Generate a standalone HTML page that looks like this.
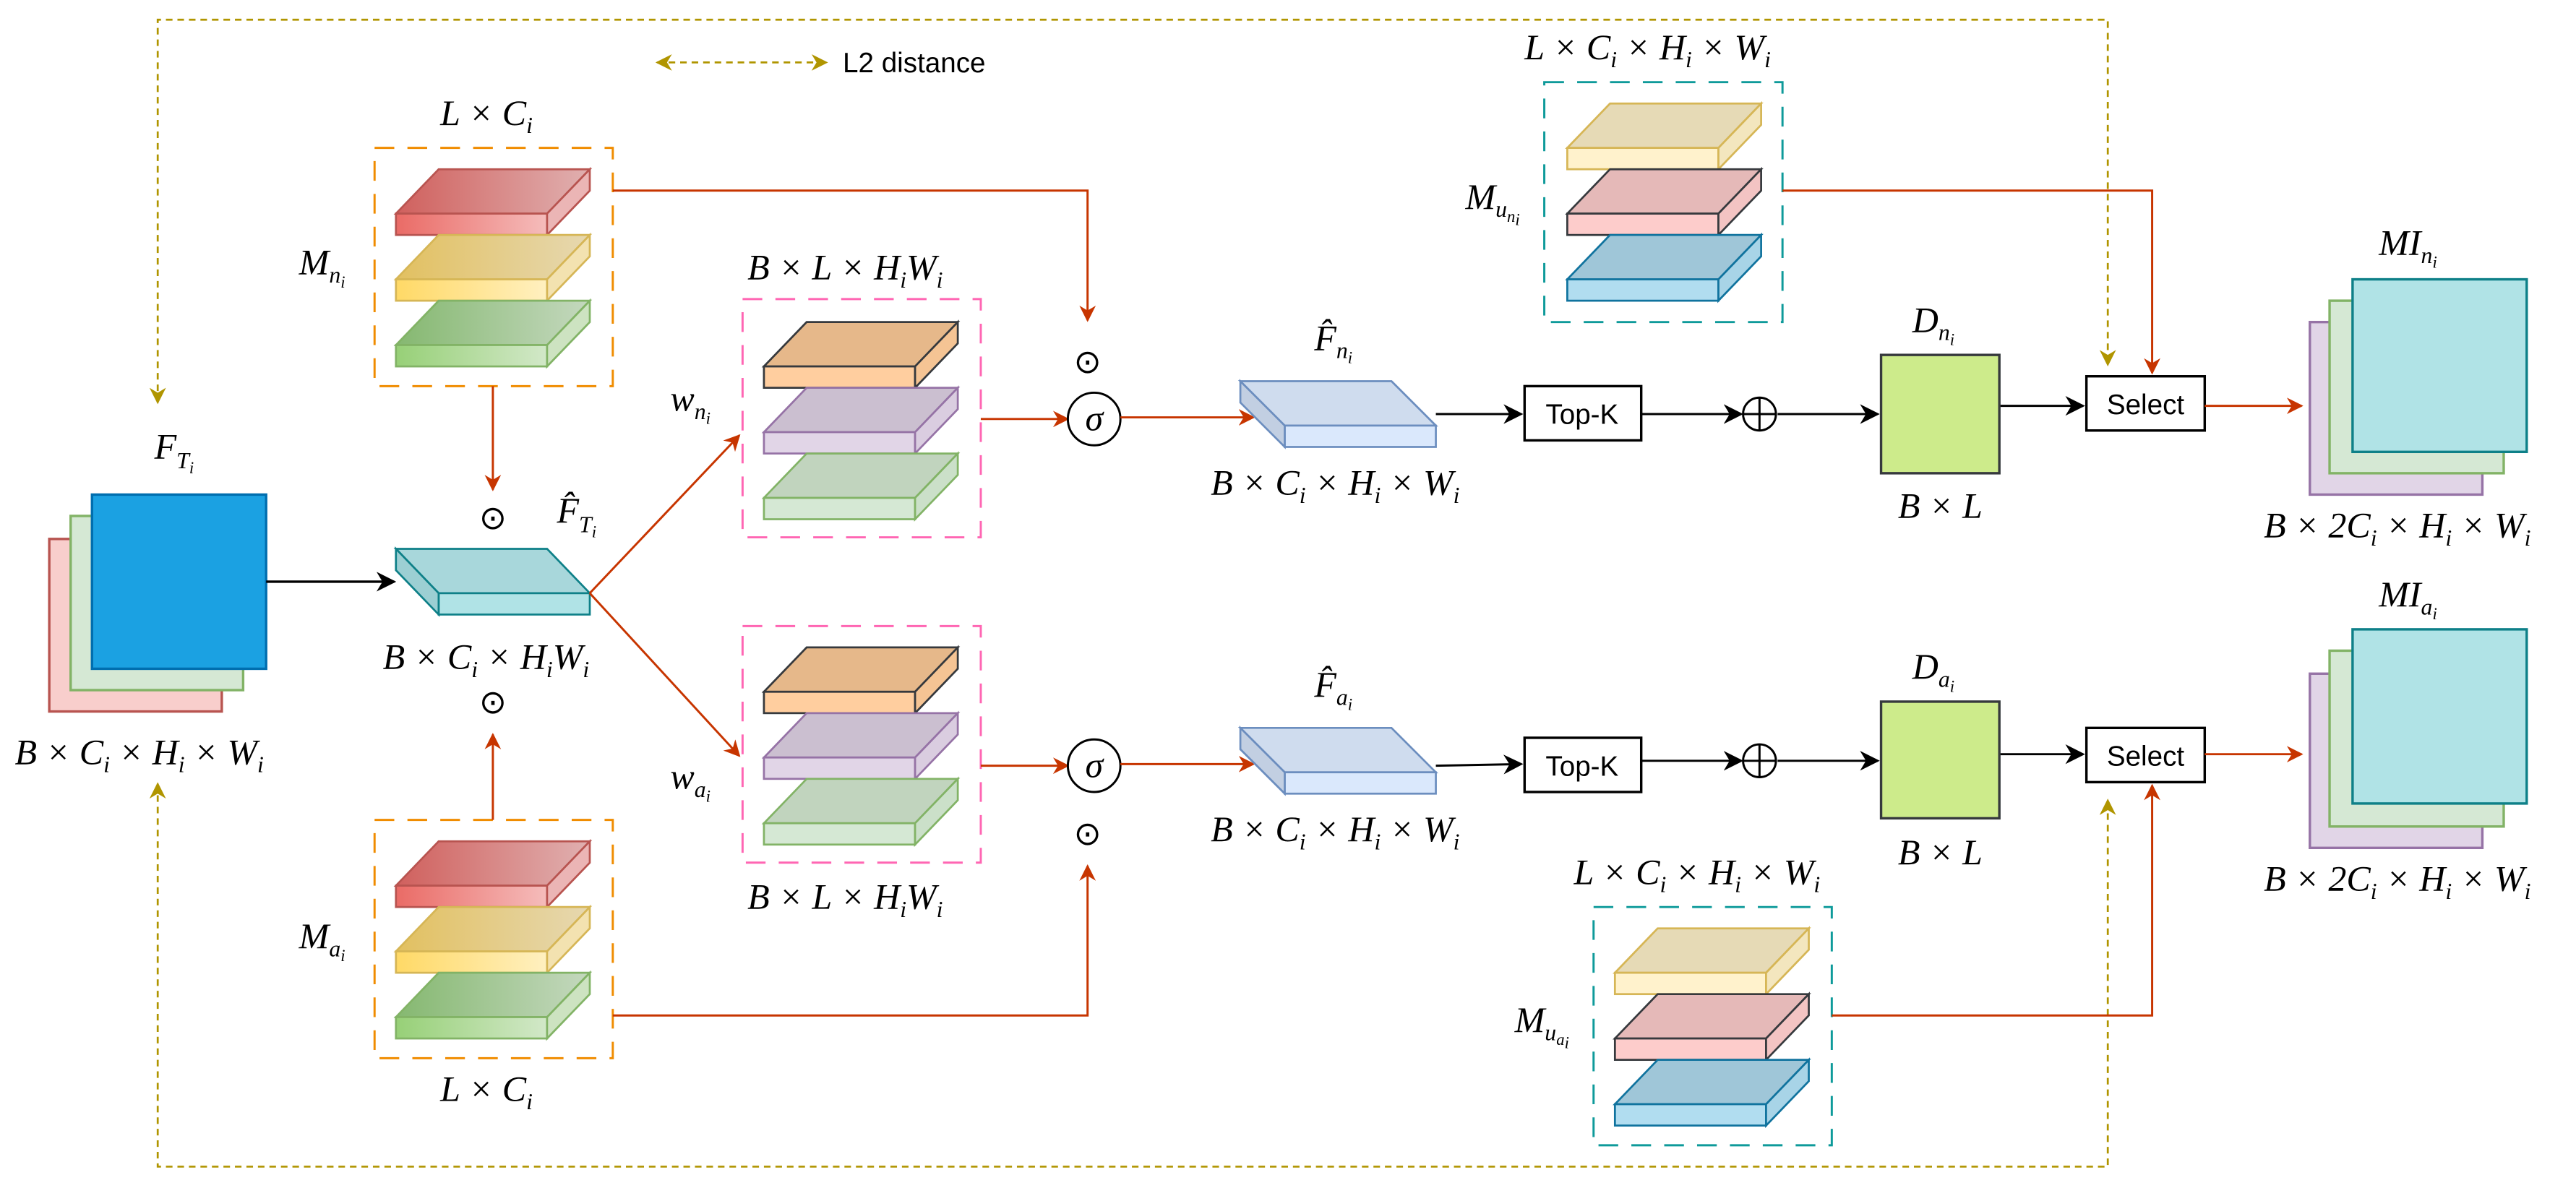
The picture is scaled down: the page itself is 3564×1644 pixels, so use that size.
<!DOCTYPE html>
<html><head><meta charset="utf-8"><style>
html,body{margin:0;padding:0;background:#fff;}
svg{display:block;}
.m{font-family:"Liberation Serif",serif;font-style:italic;font-size:22px;fill:#000;}
.s{font-size:14px;}
.ss{font-size:10px;}
.t{font-family:"Liberation Sans",sans-serif;font-size:17px;fill:#000;}
</style></head><body>
<svg width="3564" height="1644" viewBox="0 0 1568 723" preserveAspectRatio="none" xmlns="http://www.w3.org/2000/svg">
<defs>
<marker id="ar" viewBox="0 0 10 10" refX="9" refY="5" markerWidth="10" markerHeight="10" orient="auto-start-reverse" markerUnits="userSpaceOnUse"><path d="M0,0 L10,5 L0,10 L3,5 z" fill="#c73500"/></marker>
<marker id="ao" viewBox="0 0 10 10" refX="9" refY="5" markerWidth="10" markerHeight="10" orient="auto-start-reverse" markerUnits="userSpaceOnUse"><path d="M0,0 L10,5 L0,10 L3,5 z" fill="#b09500"/></marker>
<marker id="abk" viewBox="0 0 10 10" refX="9" refY="5" markerWidth="12" markerHeight="12" orient="auto-start-reverse" markerUnits="userSpaceOnUse"><path d="M0,0 L10,5 L0,10 L3,5 z" fill="#000"/></marker>
<linearGradient id="gr1"><stop offset="0" stop-color="#d0605d"/><stop offset="1" stop-color="#e0b0b0"/></linearGradient>
<linearGradient id="gr2"><stop offset="0" stop-color="#ea6b66"/><stop offset="1" stop-color="#f5bcbb"/></linearGradient>
<linearGradient id="gy1"><stop offset="0" stop-color="#e2c060"/><stop offset="1" stop-color="#e6d8b0"/></linearGradient>
<linearGradient id="gy2"><stop offset="0" stop-color="#ffd966"/><stop offset="1" stop-color="#fff0c0"/></linearGradient>
<linearGradient id="gg1"><stop offset="0" stop-color="#85b870"/><stop offset="1" stop-color="#c4d8be"/></linearGradient>
<linearGradient id="gg2"><stop offset="0" stop-color="#97d077"/><stop offset="1" stop-color="#d2e8c8"/></linearGradient>
</defs>

<g fill="none" stroke="#b09500" stroke-width="1.2" stroke-dasharray="4,3">
<path d="M96,245 V12 H1283 V222" marker-start="url(#ao)" marker-end="url(#ao)"/>
<path d="M96,477 V710 H1283 V487" marker-start="url(#ao)" marker-end="url(#ao)"/>
<path d="M400,38 H503" marker-start="url(#ao)" marker-end="url(#ao)"/>
</g>
<text x="513" y="44" class="t">L2 distance</text>

<rect x="30" y="328" width="105" height="105" fill="#f8cecc" stroke="#b85450" stroke-width="1.5"/>
<rect x="43" y="314" width="105" height="106" fill="#d5e8d4" stroke="#82b366" stroke-width="1.5"/>
<rect x="56" y="301" width="106" height="106" fill="#1ba1e2" stroke="#006eaf" stroke-width="1.5"/>
<text x="94" y="279" class="m">F<tspan class="s" dy="6">T</tspan><tspan class="ss" dy="3">i</tspan></text>
<text x="9" y="465" class="m">B × C<tspan class="s" dy="5">i</tspan><tspan dy="-5"> × H</tspan><tspan class="s" dy="5">i</tspan><tspan dy="-5"> × W</tspan><tspan class="s" dy="5">i</tspan></text>
<line x1="162" y1="354" x2="240" y2="354" stroke="#000" stroke-width="1.5" marker-end="url(#abk)"/>

<g transform="translate(267,361)" stroke="#0e8088" stroke-width="1.2">
<polygon points="-26,-27 66,-27 92,0 0,0" fill="#a8d7db"/>
<rect x="0" y="0" width="92" height="13" fill="#b0e3e6"/>
<polygon points="-26,-27 0,0 0,13 -26,-14" fill="#9ccfd3"/>
</g>
<text x="339" y="318" class="m">F̂<tspan class="s" dy="6">T</tspan><tspan class="ss" dy="3">i</tspan></text>
<text x="233" y="407" class="m">B × C<tspan class="s" dy="5">i</tspan><tspan dy="-5"> × H</tspan><tspan class="s" dy="5">i</tspan><tspan dy="-5">W</tspan><tspan class="s" dy="5">i</tspan></text>
<text x="300" y="322" text-anchor="middle" font-family="DejaVu Sans" font-size="20">⊙</text>
<text x="300" y="434" text-anchor="middle" font-family="DejaVu Sans" font-size="20">⊙</text>

<rect x="228" y="90" width="145" height="145" fill="none" stroke="#f08c00" stroke-width="1.3" stroke-dasharray="12,8"/>
<text x="268" y="76" class="m">L × C<tspan class="s" dy="5">i</tspan></text>
<text x="182" y="167" class="m">M<tspan class="s" dy="5">n</tspan><tspan class="ss" dy="3">i</tspan></text>
<g stroke-width="1.2">
<g transform="translate(241,130)" stroke="#b85450"><polygon points="26,-27 118,-27 92,0 0,0" fill="url(#gr1)"/><rect width="92" height="13" fill="url(#gr2)"/><polygon points="92,0 118,-27 118,-14 92,13" fill="#ebb5b5"/></g>
<g transform="translate(241,170)" stroke="#d6b656"><polygon points="26,-27 118,-27 92,0 0,0" fill="url(#gy1)"/><rect width="92" height="13" fill="url(#gy2)"/><polygon points="92,0 118,-27 118,-14 92,13" fill="#f3e2b0"/></g>
<g transform="translate(241,210)" stroke="#82b366"><polygon points="26,-27 118,-27 92,0 0,0" fill="url(#gg1)"/><rect width="92" height="13" fill="url(#gg2)"/><polygon points="92,0 118,-27 118,-14 92,13" fill="#cde3c1"/></g>
</g>
<line x1="300" y1="235" x2="300" y2="298" stroke="#c73500" stroke-width="1.3" marker-end="url(#ar)"/>

<rect x="228" y="499" width="145" height="145" fill="none" stroke="#f08c00" stroke-width="1.3" stroke-dasharray="12,8"/>
<text x="268" y="670" class="m">L × C<tspan class="s" dy="5">i</tspan></text>
<text x="182" y="577" class="m">M<tspan class="s" dy="5">a</tspan><tspan class="ss" dy="3">i</tspan></text>
<g stroke-width="1.2">
<g transform="translate(241,539)" stroke="#b85450"><polygon points="26,-27 118,-27 92,0 0,0" fill="url(#gr1)"/><rect width="92" height="13" fill="url(#gr2)"/><polygon points="92,0 118,-27 118,-14 92,13" fill="#ebb5b5"/></g>
<g transform="translate(241,579)" stroke="#d6b656"><polygon points="26,-27 118,-27 92,0 0,0" fill="url(#gy1)"/><rect width="92" height="13" fill="url(#gy2)"/><polygon points="92,0 118,-27 118,-14 92,13" fill="#f3e2b0"/></g>
<g transform="translate(241,619)" stroke="#82b366"><polygon points="26,-27 118,-27 92,0 0,0" fill="url(#gg1)"/><rect width="92" height="13" fill="url(#gg2)"/><polygon points="92,0 118,-27 118,-14 92,13" fill="#cde3c1"/></g>
</g>
<line x1="300" y1="499" x2="300" y2="447" stroke="#c73500" stroke-width="1.3" marker-end="url(#ar)"/>

<line x1="359" y1="361" x2="450" y2="265" stroke="#c73500" stroke-width="1.3" marker-end="url(#ar)"/>
<line x1="359" y1="361" x2="450" y2="460" stroke="#c73500" stroke-width="1.3" marker-end="url(#ar)"/>

<rect x="452" y="182" width="145" height="145" fill="none" stroke="#ff66b3" stroke-width="1.3" stroke-dasharray="12,8"/>
<text x="455" y="170" class="m">B × L × H<tspan class="s" dy="5">i</tspan><tspan dy="-5">W</tspan><tspan class="s" dy="5">i</tspan></text>
<text x="408" y="250" class="m">w<tspan class="s" dy="5">n</tspan><tspan class="ss" dy="3">i</tspan></text>
<g stroke-width="1.2">
<g transform="translate(465,223)" stroke="#36393d"><polygon points="26,-27 118,-27 92,0 0,0" fill="#e6b88a"/><rect width="92" height="13" fill="#ffce9f"/><polygon points="92,0 118,-27 118,-14 92,13" fill="#f5c494"/></g>
<g transform="translate(465,263)" stroke="#9673a6"><polygon points="26,-27 118,-27 92,0 0,0" fill="#cbbfd0"/><rect width="92" height="13" fill="#e1d5e7"/><polygon points="92,0 118,-27 118,-14 92,13" fill="#dacde0"/></g>
<g transform="translate(465,303)" stroke="#82b366"><polygon points="26,-27 118,-27 92,0 0,0" fill="#c1d4be"/><rect width="92" height="13" fill="#d5e8d4"/><polygon points="92,0 118,-27 118,-14 92,13" fill="#cbe0c9"/></g>
</g>
<rect x="452" y="381" width="145" height="144" fill="none" stroke="#ff66b3" stroke-width="1.3" stroke-dasharray="12,8"/>
<text x="455" y="553" class="m">B × L × H<tspan class="s" dy="5">i</tspan><tspan dy="-5">W</tspan><tspan class="s" dy="5">i</tspan></text>
<text x="408" y="480" class="m">w<tspan class="s" dy="5">a</tspan><tspan class="ss" dy="3">i</tspan></text>
<g stroke-width="1.2">
<g transform="translate(465,421)" stroke="#36393d"><polygon points="26,-27 118,-27 92,0 0,0" fill="#e6b88a"/><rect width="92" height="13" fill="#ffce9f"/><polygon points="92,0 118,-27 118,-14 92,13" fill="#f5c494"/></g>
<g transform="translate(465,461)" stroke="#9673a6"><polygon points="26,-27 118,-27 92,0 0,0" fill="#cbbfd0"/><rect width="92" height="13" fill="#e1d5e7"/><polygon points="92,0 118,-27 118,-14 92,13" fill="#dacde0"/></g>
<g transform="translate(465,501)" stroke="#82b366"><polygon points="26,-27 118,-27 92,0 0,0" fill="#c1d4be"/><rect width="92" height="13" fill="#d5e8d4"/><polygon points="92,0 118,-27 118,-14 92,13" fill="#cbe0c9"/></g>
</g>

<path d="M373,116 H662 V195" fill="none" stroke="#c73500" stroke-width="1.3" marker-end="url(#ar)"/>
<path d="M373,618 H662 V527" fill="none" stroke="#c73500" stroke-width="1.3" marker-end="url(#ar)"/>
<text x="662" y="227" text-anchor="middle" font-family="DejaVu Sans" font-size="20">⊙</text>
<text x="662" y="514" text-anchor="middle" font-family="DejaVu Sans" font-size="20">⊙</text>
<line x1="597" y1="255" x2="650" y2="255" stroke="#c73500" stroke-width="1.3" marker-end="url(#ar)"/>
<line x1="597" y1="466" x2="650" y2="466" stroke="#c73500" stroke-width="1.3" marker-end="url(#ar)"/>
<circle cx="666" cy="255" r="16" fill="#fff" stroke="#000" stroke-width="1.3"/>
<circle cx="666" cy="466" r="16" fill="#fff" stroke="#000" stroke-width="1.3"/>
<text x="666" y="262" text-anchor="middle" class="m" font-size="20">σ</text>
<text x="666" y="473" text-anchor="middle" class="m" font-size="20">σ</text>
<line x1="682" y1="254" x2="763" y2="254" stroke="#c73500" stroke-width="1.3" marker-end="url(#ar)"/>
<line x1="682" y1="465" x2="763" y2="465" stroke="#c73500" stroke-width="1.3" marker-end="url(#ar)"/>

<g transform="translate(782,259)" stroke="#6c8ebf" stroke-width="1.2">
<polygon points="-27,-27 65,-27 92,0 0,0" fill="#cfdcee"/><rect width="92" height="13" fill="#dae8fc"/><polygon points="-27,-27 0,0 0,13 -27,-14" fill="#c2cfe2"/></g>
<g transform="translate(782,470)" stroke="#6c8ebf" stroke-width="1.2">
<polygon points="-27,-27 65,-27 92,0 0,0" fill="#cfdcee"/><rect width="92" height="13" fill="#dae8fc"/><polygon points="-27,-27 0,0 0,13 -27,-14" fill="#c2cfe2"/></g>
<text x="800" y="213" class="m">F̂<tspan class="s" dy="5">n</tspan><tspan class="ss" dy="3">i</tspan></text>
<text x="800" y="424" class="m">F̂<tspan class="s" dy="5">a</tspan><tspan class="ss" dy="3">i</tspan></text>
<text x="737" y="301" class="m">B × C<tspan class="s" dy="5">i</tspan><tspan dy="-5"> × H</tspan><tspan class="s" dy="5">i</tspan><tspan dy="-5"> × W</tspan><tspan class="s" dy="5">i</tspan></text>
<text x="737" y="512" class="m">B × C<tspan class="s" dy="5">i</tspan><tspan dy="-5"> × H</tspan><tspan class="s" dy="5">i</tspan><tspan dy="-5"> × W</tspan><tspan class="s" dy="5">i</tspan></text>

<g stroke="#000" stroke-width="1.3">
<line x1="874" y1="252" x2="926" y2="252" marker-end="url(#abk)"/>
<line x1="999" y1="252" x2="1060" y2="252" marker-end="url(#abk)"/>
<line x1="1082" y1="252" x2="1143" y2="252" marker-end="url(#abk)"/>
<line x1="1217" y1="247" x2="1268" y2="247" marker-end="url(#abk)"/>
<line x1="874" y1="466" x2="926" y2="465" marker-end="url(#abk)"/>
<line x1="999" y1="463" x2="1060" y2="463" marker-end="url(#abk)"/>
<line x1="1082" y1="463" x2="1143" y2="463" marker-end="url(#abk)"/>
<line x1="1217" y1="459" x2="1268" y2="459" marker-end="url(#abk)"/>
</g>
<rect x="928" y="235" width="71" height="33" fill="#fff" stroke="#000" stroke-width="1.5"/>
<text x="963" y="258" text-anchor="middle" class="t">Top-K</text>
<rect x="928" y="449" width="71" height="33" fill="#fff" stroke="#000" stroke-width="1.5"/>
<text x="963" y="472" text-anchor="middle" class="t">Top-K</text>
<g fill="#fff" stroke="#000" stroke-width="1.3">
<circle cx="1071" cy="252" r="10"/><path d="M1061,252 H1081 M1071,242 V262"/>
<circle cx="1071" cy="463" r="10"/><path d="M1061,463 H1081 M1071,453 V473"/>
</g>
<rect x="1145" y="216" width="72" height="72" fill="#cdeb8b" stroke="#36393d" stroke-width="1.5"/>
<rect x="1145" y="427" width="72" height="71" fill="#cdeb8b" stroke="#36393d" stroke-width="1.5"/>
<text x="1164" y="202" class="m">D<tspan class="s" dy="5">n</tspan><tspan class="ss" dy="3">i</tspan></text>
<text x="1164" y="413" class="m">D<tspan class="s" dy="5">a</tspan><tspan class="ss" dy="3">i</tspan></text>
<text x="1181" y="315" text-anchor="middle" class="m">B × L</text>
<text x="1181" y="526" text-anchor="middle" class="m">B × L</text>
<rect x="1270" y="229" width="72" height="33" fill="#fff" stroke="#000" stroke-width="1.5"/>
<text x="1306" y="252" text-anchor="middle" class="t">Select</text>
<rect x="1270" y="443" width="72" height="33" fill="#fff" stroke="#000" stroke-width="1.5"/>
<text x="1306" y="466" text-anchor="middle" class="t">Select</text>
<line x1="1342" y1="247" x2="1401" y2="247" stroke="#c73500" stroke-width="1.3" marker-end="url(#ar)"/>
<line x1="1342" y1="459" x2="1401" y2="459" stroke="#c73500" stroke-width="1.3" marker-end="url(#ar)"/>

<rect x="940" y="50" width="145" height="146" fill="none" stroke="#0e9a9a" stroke-width="1.3" stroke-dasharray="12,8"/>
<text x="928" y="36" class="m">L × C<tspan class="s" dy="5">i</tspan><tspan dy="-5"> × H</tspan><tspan class="s" dy="5">i</tspan><tspan dy="-5"> × W</tspan><tspan class="s" dy="5">i</tspan></text>
<text x="892" y="127" class="m">M<tspan class="s" dy="5">u</tspan><tspan class="ss" dy="3">n</tspan><tspan class="ss" dy="2" font-size="7">i</tspan></text>
<g stroke-width="1.2">
<g transform="translate(954,90)" stroke="#d6b656"><polygon points="26,-27 118,-27 92,0 0,0" fill="#e6dab6"/><rect width="92" height="13" fill="#fff2cc"/><polygon points="92,0 118,-27 118,-14 92,13" fill="#f3e6be"/></g>
<g transform="translate(954,130)" stroke="#36393d"><polygon points="26,-27 118,-27 92,0 0,0" fill="#e5b9b8"/><rect width="92" height="13" fill="#fdcccb"/><polygon points="92,0 118,-27 118,-14 92,13" fill="#f3c4c3"/></g>
<g transform="translate(954,170)" stroke="#10739e"><polygon points="26,-27 118,-27 92,0 0,0" fill="#9fc6d8"/><rect width="92" height="13" fill="#b1ddf0"/><polygon points="92,0 118,-27 118,-14 92,13" fill="#a8d4e7"/></g>
</g>
<rect x="970" y="552" width="145" height="145" fill="none" stroke="#0e9a9a" stroke-width="1.3" stroke-dasharray="12,8"/>
<text x="958" y="538" class="m">L × C<tspan class="s" dy="5">i</tspan><tspan dy="-5"> × H</tspan><tspan class="s" dy="5">i</tspan><tspan dy="-5"> × W</tspan><tspan class="s" dy="5">i</tspan></text>
<text x="922" y="628" class="m">M<tspan class="s" dy="5">u</tspan><tspan class="ss" dy="3">a</tspan><tspan class="ss" dy="2" font-size="7">i</tspan></text>
<g stroke-width="1.2">
<g transform="translate(983,592)" stroke="#d6b656"><polygon points="26,-27 118,-27 92,0 0,0" fill="#e6dab6"/><rect width="92" height="13" fill="#fff2cc"/><polygon points="92,0 118,-27 118,-14 92,13" fill="#f3e6be"/></g>
<g transform="translate(983,632)" stroke="#36393d"><polygon points="26,-27 118,-27 92,0 0,0" fill="#e5b9b8"/><rect width="92" height="13" fill="#fdcccb"/><polygon points="92,0 118,-27 118,-14 92,13" fill="#f3c4c3"/></g>
<g transform="translate(983,672)" stroke="#10739e"><polygon points="26,-27 118,-27 92,0 0,0" fill="#9fc6d8"/><rect width="92" height="13" fill="#b1ddf0"/><polygon points="92,0 118,-27 118,-14 92,13" fill="#a8d4e7"/></g>
</g>
<path d="M1085,116 H1310 V227" fill="none" stroke="#c73500" stroke-width="1.3" marker-end="url(#ar)"/>
<path d="M1115,618 H1310 V478" fill="none" stroke="#c73500" stroke-width="1.3" marker-end="url(#ar)"/>

<rect x="1406" y="196" width="105" height="105" fill="#e1d5e7" stroke="#9673a6" stroke-width="1.5"/>
<rect x="1418" y="183" width="106" height="105" fill="#d5e8d4" stroke="#82b366" stroke-width="1.5"/>
<rect x="1432" y="170" width="106" height="105" fill="#b0e3e6" stroke="#0e8088" stroke-width="1.5"/>
<text x="1448" y="155" class="m">MI<tspan class="s" dy="5">n</tspan><tspan class="ss" dy="3">i</tspan></text>
<text x="1378" y="327" class="m">B × 2C<tspan class="s" dy="5">i</tspan><tspan dy="-5"> × H</tspan><tspan class="s" dy="5">i</tspan><tspan dy="-5"> × W</tspan><tspan class="s" dy="5">i</tspan></text>
<rect x="1406" y="410" width="105" height="106" fill="#e1d5e7" stroke="#9673a6" stroke-width="1.5"/>
<rect x="1418" y="396" width="106" height="107" fill="#d5e8d4" stroke="#82b366" stroke-width="1.5"/>
<rect x="1432" y="383" width="106" height="106" fill="#b0e3e6" stroke="#0e8088" stroke-width="1.5"/>
<text x="1448" y="369" class="m">MI<tspan class="s" dy="5">a</tspan><tspan class="ss" dy="3">i</tspan></text>
<text x="1378" y="542" class="m">B × 2C<tspan class="s" dy="5">i</tspan><tspan dy="-5"> × H</tspan><tspan class="s" dy="5">i</tspan><tspan dy="-5"> × W</tspan><tspan class="s" dy="5">i</tspan></text>
</svg>
</body></html>
